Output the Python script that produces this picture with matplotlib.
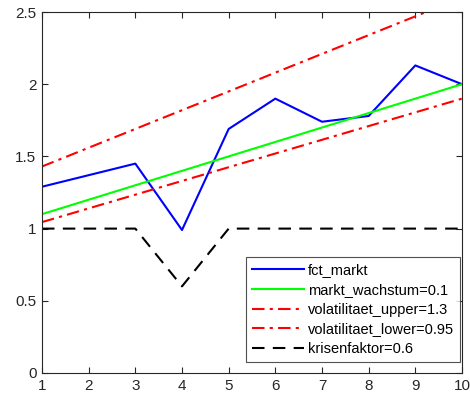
import matplotlib.pyplot as plt

plt.rcParams['font.family'] = ['Liberation Sans', 'DejaVu Sans']

x = [1, 2, 3, 4, 5, 6, 7, 8, 9, 10]
fct_markt = [1.29, 1.37, 1.45, 0.99, 1.69, 1.90, 1.74, 1.78, 2.13, 2.00]
markt_wachstum = [1.1, 1.2, 1.3, 1.4, 1.5, 1.6, 1.7, 1.8, 1.9, 2.0]
vol_upper = [1.43, 1.56, 1.69, 1.82, 1.95, 2.08, 2.21, 2.34, 2.47, 2.60]
vol_lower = [1.045, 1.14, 1.235, 1.33, 1.425, 1.52, 1.615, 1.71, 1.805, 1.90]
krisenfaktor = [1, 1, 1, 0.6, 1, 1, 1, 1, 1, 1]

fig = plt.figure(figsize=(4.7, 4.0), dpi=100)
ax = fig.add_axes([42 / 470, 27 / 400, 420 / 470, 361 / 400])

ax.plot(x, fct_markt, color='#0000ff', lw=1.5, label='fct_markt')
ax.plot(x, markt_wachstum, color='#00ff00', lw=1.5, label='markt_wachstum=0.1')
ax.plot(x, vol_upper, color='#ff0000', lw=1.5, ls=(0, (6, 2.5, 1.5, 2.5)),
        label='volatilitaet_upper=1.3')
ax.plot(x, vol_lower, color='#ff0000', lw=1.5, ls=(0, (6, 2.5, 1.5, 2.5)),
        label='volatilitaet_lower=0.95')
ax.plot(x, krisenfaktor, color='black', lw=1.5, ls=(0, (6, 4)),
        label='krisenfaktor=0.6')

ax.set_xlim(1, 10)
ax.set_ylim(0, 2.5)
ax.set_xticks(x)
ax.set_yticks([0, 0.5, 1, 1.5, 2, 2.5])
ax.set_yticklabels(['0', '0.5', '1', '1.5', '2', '2.5'])

axis_col = '#262626'
for s in ax.spines.values():
    s.set_color(axis_col)
    s.set_linewidth(0.8)
ax.tick_params(direction='in', top=True, right=True, length=4, width=0.8,
               color=axis_col, labelcolor=axis_col, labelsize=11, pad=4)

leg = ax.legend(loc='lower right', bbox_to_anchor=(0.995, 0.03), fontsize=10.5,
                frameon=True, fancybox=False, edgecolor=axis_col,
                handlelength=3.6, borderpad=0.4, labelspacing=0.4,
                handletextpad=0.25, borderaxespad=0)
leg.get_frame().set_linewidth(0.8)

fig.savefig('out.png', dpi=100)
